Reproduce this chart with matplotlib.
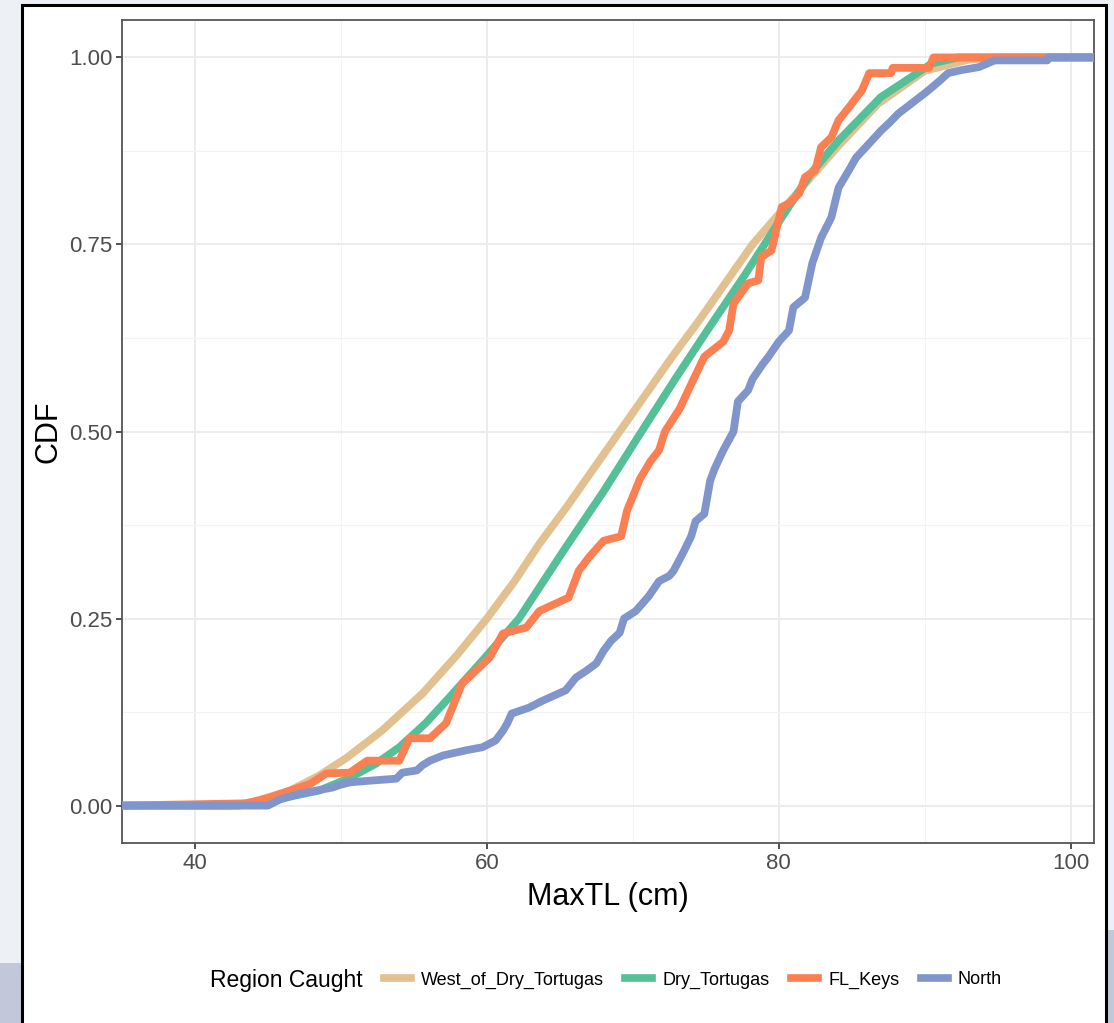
import matplotlib
matplotlib.use('Agg')
import matplotlib.pyplot as plt
from matplotlib.patches import Rectangle
from matplotlib.lines import Line2D
from matplotlib.ticker import FixedLocator
from matplotlib import rcParams

rcParams['font.family'] = ['Liberation Sans', 'DejaVu Sans']

# ECDF traces of MaxTL by region (x = MaxTL in cm, y = cumulative fraction)
regions = ['West_of_Dry_Tortugas', 'Dry_Tortugas', 'FL_Keys', 'North']
colors = ['#e3c08f', '#55bf98', '#fc7f52', '#8095cb']

west_x = [42.4, 44.0, 46.5, 48.5, 50.4, 52.8, 55.6, 57.9, 60.0, 61.9, 63.6,
          65.5, 67.3, 69.1, 70.9, 72.7, 74.6, 76.4, 78.2, 80.2, 82.2, 84.1,
          86.8, 90.0, 93.0, 95.0]
west_cdf = [0.0, 0.005, 0.02, 0.04, 0.064, 0.10, 0.15, 0.20, 0.25, 0.30, 0.35,
            0.40, 0.45, 0.50, 0.55, 0.60, 0.65, 0.70, 0.75, 0.795, 0.84, 0.882,
            0.938, 0.982, 0.997, 1.0]

dry_x = [43.0, 46.0, 48.5, 50.6, 52.4, 54.0, 55.8, 57.4, 59.7, 62.2, 65.4,
         68.0, 70.6, 72.9, 75.1, 77.7, 80.2, 82.2, 84.1, 87.0, 90.5, 92.3]
dry_cdf = [0.0, 0.01, 0.02, 0.037, 0.056, 0.078, 0.11, 0.144, 0.194, 0.25, 0.345,
           0.42, 0.50, 0.57, 0.635, 0.71, 0.786, 0.845, 0.889, 0.947, 0.992, 1.0]

keys_x = [43.5, 45.0, 46.5, 47.9, 49.0, 50.6, 51.8, 54.0, 54.7, 56.1, 57.2, 58.3,
          60.2, 61.1, 62.7, 63.6, 65.6, 66.3, 67.0, 68.0, 69.2, 69.6, 70.5, 71.2,
          71.8, 72.2, 73.2, 73.8, 74.9, 76.2, 76.6, 76.9, 77.9, 78.6, 78.8, 79.5,
          80.2, 80.7, 81.4, 81.8, 82.5, 82.9, 83.6, 84.1, 84.8, 85.7, 86.2, 87.7,
          87.8, 90.3, 90.6]
keys_cdf = [0.003, 0.01, 0.02, 0.029, 0.043, 0.044, 0.06, 0.06, 0.09, 0.09, 0.11, 0.163,
            0.198, 0.23, 0.238, 0.26, 0.278, 0.314, 0.332, 0.354, 0.36, 0.394, 0.437, 0.46,
            0.475, 0.50, 0.53, 0.555, 0.60, 0.62, 0.635, 0.671, 0.698, 0.702, 0.733, 0.742,
            0.80, 0.805, 0.818, 0.84, 0.849, 0.88, 0.893, 0.916, 0.933, 0.956, 0.979, 0.979,
            0.986, 0.986, 1.0]

north_x = [45.0, 45.8, 46.5, 47.2, 48.3, 49.4, 50.0, 50.6, 51.8, 53.8, 54.2,
           55.2, 55.6, 56.1, 57.0, 58.6, 59.7, 60.6, 61.1, 61.4, 61.7, 62.9,
           63.8, 64.6, 65.4, 66.1, 66.8, 67.5, 68.0, 68.5, 69.1, 69.4, 70.2,
           71.1, 71.8, 72.5, 72.8, 73.5, 74.0, 74.3, 74.9, 75.3, 75.6, 76.2,
           76.9, 77.2, 77.9, 78.2, 78.9, 79.3, 80.0, 80.7, 81.0, 81.8, 82.3,
           82.9, 83.6, 84.1, 84.8, 85.3, 86.2, 87.0, 87.6, 88.2, 88.8, 89.4,
           90.0, 90.5, 91.1, 91.6, 92.5, 93.7, 94.8, 98.4, 98.5]
north_cdf = [0.0, 0.008, 0.012, 0.016, 0.02, 0.024, 0.028, 0.031, 0.033, 0.036, 0.044,
             0.047, 0.054, 0.06, 0.067, 0.074, 0.078, 0.087, 0.10, 0.11, 0.123, 0.131,
             0.14, 0.147, 0.154, 0.171, 0.18, 0.19, 0.207, 0.22, 0.231, 0.25, 0.26,
             0.28, 0.30, 0.307, 0.314, 0.34, 0.36, 0.38, 0.39, 0.434, 0.45, 0.475,
             0.50, 0.54, 0.555, 0.57, 0.59, 0.60, 0.62, 0.635, 0.666, 0.679, 0.725,
             0.759, 0.786, 0.826, 0.849, 0.866, 0.885, 0.902, 0.913, 0.925, 0.934, 0.943,
             0.952, 0.96, 0.97, 0.979, 0.983, 0.987, 0.996, 0.996, 1.0]

xlim = (35.0, 101.6)
ylim = (-0.05, 1.05)

fig = plt.figure(figsize=(11.14, 10.23), dpi=100, facecolor='#edf0f5')

# white card with black frame, plus slide background bits at the bottom corners
fig.patches.append(Rectangle((0, 0), 22 / 1114, 60 / 1023, transform=fig.transFigure,
                             facecolor='#c3c7da', edgecolor='none', zorder=-3))
fig.patches.append(Rectangle((1106 / 1114, 0), 8 / 1114, 93 / 1023, transform=fig.transFigure,
                             facecolor='#c3c7da', edgecolor='none', zorder=-3))
fig.patches.append(Rectangle((22 / 1114, -0.02), 1084 / 1114, 1.0 - 5 / 1023 + 0.02,
                             transform=fig.transFigure, facecolor='white',
                             edgecolor='black', linewidth=2.2, zorder=-2))

ax = fig.add_axes([122 / 1114, 1 - 843 / 1023, 972 / 1114, 823 / 1023])
ax.set_facecolor('white')

series = [(west_x, west_cdf), (dry_x, dry_cdf), (keys_x, keys_cdf), (north_x, north_cdf)]
for (xs, ys), color, name in zip(series, colors, regions):
    # ecdf runs flat to the panel edges on both sides
    xx = [xlim[0]] + list(xs) + [xlim[1]]
    yy = [0.0] + list(ys) + [1.0]
    ax.plot(xx, yy, color=color, linewidth=5.6, label=name, zorder=3,
            solid_capstyle='butt', solid_joinstyle='round')

ax.set_xlim(*xlim)
ax.set_ylim(*ylim)
ax.xaxis.set_major_locator(FixedLocator([40, 60, 80, 100]))
ax.xaxis.set_minor_locator(FixedLocator([50, 70, 90]))
ax.yaxis.set_major_locator(FixedLocator([0.0, 0.25, 0.5, 0.75, 1.0]))
ax.yaxis.set_minor_locator(FixedLocator([0.125, 0.375, 0.625, 0.875]))
ax.set_yticklabels(['0.00', '0.25', '0.50', '0.75', '1.00'])

ax.grid(which='major', color='#ebebeb', linewidth=1.3, zorder=0)
ax.grid(which='minor', color='#f3f3f3', linewidth=0.8, zorder=0)
ax.set_axisbelow(True)

ax.tick_params(which='major', length=4, width=1.2, color='#333333',
               labelsize=16, labelcolor='#4d4d4d', pad=3)
ax.tick_params(which='minor', length=0)
for sp in ax.spines.values():
    sp.set_color('#555555')
    sp.set_linewidth(1.3)

ax.set_xlabel('MaxTL (cm)', fontsize=22, color='black', labelpad=6)
ax.set_ylabel('CDF', fontsize=22, color='black', labelpad=4)

handles = [Line2D([], [], color=c, linewidth=5.5) for c in colors]
fig.legend(handles, regions, loc='center', bbox_to_anchor=(0.622, 0.042), ncol=4,
           frameon=False, fontsize=13, handlelength=1.5, handletextpad=0.55,
           columnspacing=1.2)
fig.text(210 / 1114, 0.042, 'Region Caught', fontsize=16.5, ha='left', va='center')

plt.savefig('out.png', dpi=100, facecolor=fig.get_facecolor())
